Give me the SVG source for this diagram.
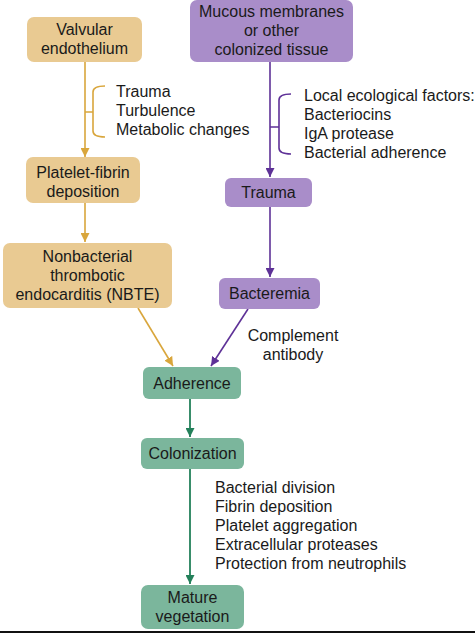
<svg xmlns="http://www.w3.org/2000/svg" width="475" height="633" viewBox="0 0 475 633">
<defs>
<style>
text{font-family:"Liberation Sans",Arial,sans-serif;font-size:16px;fill:#1a1a1a}
.c{text-anchor:middle}
.tan{fill:#E9CA92}
.pur{fill:#A98DC9}
.grn{fill:#7BB69C}
.lt{stroke:#D9A63C;stroke-width:1.6;fill:none}
.lp{stroke:#5E3197;stroke-width:1.6;fill:none}
.lg{stroke:#23805A;stroke-width:1.8;fill:none}
</style>
<marker id="at" viewBox="0 0 10 10" refX="10" refY="5" markerWidth="9" markerHeight="9" markerUnits="userSpaceOnUse" orient="auto"><path d="M0,0L10,5L0,10z" fill="#D9A63C"/></marker>
<marker id="ap" viewBox="0 0 10 10" refX="10" refY="5" markerWidth="9" markerHeight="9" markerUnits="userSpaceOnUse" orient="auto"><path d="M0,0L10,5L0,10z" fill="#5E3197"/></marker>
<marker id="ag" viewBox="0 0 10 10" refX="10" refY="5" markerWidth="9" markerHeight="9" markerUnits="userSpaceOnUse" orient="auto"><path d="M0,0L10,5L0,10z" fill="#23805A"/></marker>
</defs>
<rect width="475" height="633" fill="#fff"/>
<g id="connectors">
<line class="lt" x1="85" y1="62" x2="85" y2="157" marker-end="url(#at)"/>
<path class="lt" d="M105,86 Q93,86 93,92 L93,131 Q93,137 105,137 M85,112 L93,112"/>
<line class="lt" x1="85" y1="203" x2="85" y2="242" marker-end="url(#at)"/>
<line class="lt" x1="138" y1="308" x2="173" y2="366" marker-end="url(#at)"/>
<line class="lp" x1="270" y1="62" x2="270" y2="177" marker-end="url(#ap)"/>
<path class="lp" d="M291,94 Q279,94 279,100 L279,148 Q279,154 291,154 M270,127 L279,127"/>
<line class="lp" x1="270" y1="207" x2="270" y2="277" marker-end="url(#ap)"/>
<line class="lp" x1="248" y1="309" x2="211" y2="366" marker-end="url(#ap)"/>
<line class="lg" x1="190" y1="399" x2="190" y2="437" marker-end="url(#ag)"/>
<line class="lg" x1="190" y1="469" x2="190" y2="584" marker-end="url(#ag)"/>
</g>
<g id="valvular"><rect class="tan" x="27" y="17" width="115" height="45" rx="7"/><text class="c" x="84.5" y="35">Valvular</text><text class="c" x="84.5" y="54">endothelium</text></g>
<g id="factors1"><text x="116" y="97">Trauma</text><text x="116" y="116">Turbulence</text><text x="116" y="135">Metabolic changes</text></g>
<g id="platelet"><rect class="tan" x="26" y="157" width="114" height="46" rx="7"/><text class="c" x="83" y="178">Platelet-fibrin</text><text class="c" x="83" y="197">deposition</text></g>
<g id="nbte"><rect class="tan" x="3" y="243" width="169" height="65" rx="7"/><text class="c" x="87.5" y="262">Nonbacterial</text><text class="c" x="87.5" y="281">thrombotic</text><text class="c" x="87.5" y="300">endocarditis (NBTE)</text></g>
<g id="mucous"><rect class="pur" x="190" y="0" width="163" height="62" rx="7"/><text class="c" x="271.5" y="17">Mucous membranes</text><text class="c" x="271.5" y="36">or other</text><text class="c" x="271.5" y="55">colonized tissue</text></g>
<g id="factors2"><text x="304" y="101">Local ecological factors:</text><text x="304" y="120">Bacteriocins</text><text x="304" y="139">IgA protease</text><text x="304" y="158">Bacterial adherence</text></g>
<g id="trauma"><rect class="pur" x="225" y="178" width="87" height="29" rx="6"/><text class="c" x="268.5" y="198">Trauma</text></g>
<g id="bacteremia"><rect class="pur" x="219" y="278" width="101" height="31" rx="6"/><text class="c" x="269.5" y="299">Bacteremia</text></g>
<g id="complement"><text class="c" x="293" y="341">Complement</text><text class="c" x="293" y="360">antibody</text></g>
<g id="adherence"><rect class="grn" x="143" y="367" width="98" height="32" rx="6"/><text class="c" x="192" y="389">Adherence</text></g>
<g id="colonization"><rect class="grn" x="141" y="438" width="103" height="31" rx="6"/><text class="c" x="192.5" y="459">Colonization</text></g>
<g id="factors3"><text x="215" y="493">Bacterial division</text><text x="215" y="512">Fibrin deposition</text><text x="215" y="531">Platelet aggregation</text><text x="215" y="550">Extracellular proteases</text><text x="215" y="569">Protection from neutrophils</text></g>
<g id="mature"><rect class="grn" x="141" y="585" width="103" height="44" rx="7"/><text class="c" x="192.5" y="603">Mature</text><text class="c" x="192.5" y="622">vegetation</text></g>
<rect x="0" y="631" width="475" height="2" fill="#111"/>
</svg>
